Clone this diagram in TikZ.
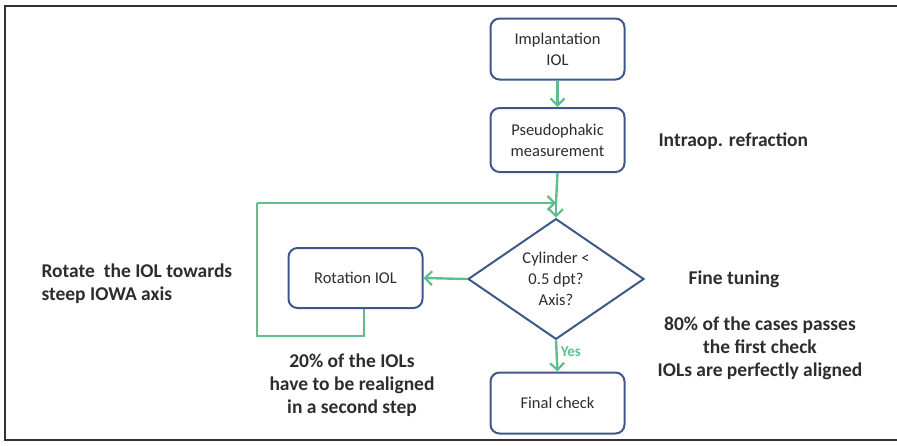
\documentclass[tikz,border=0pt]{standalone}
\usepackage{fontspec}
\setmainfont{Carlito}
\usetikzlibrary{arrows.meta,shapes.geometric}
\definecolor{boxblue}{RGB}{62,88,140}
\definecolor{arrgreen}{RGB}{95,190,140}
\definecolor{txt}{RGB}{45,45,45}
\definecolor{frame}{RGB}{50,50,50}
\tikzset{
  flowbox/.style={draw=boxblue, line width=2pt, rounded corners=9pt, minimum width=134pt, minimum height=61pt, align=center, font=\fontsize{16.5}{21}\selectfont, text=txt, fill=white},
  decision/.style={draw=boxblue, line width=2pt, diamond, minimum width=176pt, minimum height=94pt, inner sep=0pt, align=center, font=\fontsize{16.5}{21}\selectfont, text=txt},
  conn/.style={draw=arrgreen, line width=2.4pt},
  arr/.style={conn, -{Straight Barb[length=7pt,width=14pt,line width=2.2pt]}},
  note/.style={font=\bfseries\fontsize{19.5}{23}\selectfont, text=txt, align=center}
}
\begin{document}
\begin{tikzpicture}[x=1pt,y=-1pt]
\useasboundingbox (0,0) rectangle (897,445);
\draw[frame, line width=1.6pt] (897,6) -- (5,6) -- (5,440) -- (897,440);
\node[flowbox] (impl) at (557.5,49) {Implantation\\IOL};
\node[flowbox, minimum height=64pt] (pseudo) at (557.5,140) {Pseudophakic\\measurement};
\node[decision] (dec) at (556,279) {Cylinder \char`\<\\0.5 dpt?\\Axis?};
\node[flowbox, minimum height=60pt] (rot) at (355.5,278) {Rotation IOL};
\node[flowbox] (final) at (557.5,403) {Final check};
\coordinate (merge) at (556,203);
\coordinate (c1) at (364,336);
\coordinate (c2) at (257,336);
\coordinate (c3) at (257,203);
\draw[arr] (impl) -- (pseudo);
\draw[conn] (pseudo.south) -- (merge);
\draw[arr] (merge) -- (dec.north);
\draw[arr] (dec.west) -- (rot.east);
\draw[conn] (rot.south -| c1) -- (c1) -- (c2) -- (c3);
\draw[arr] (c3) -- (merge);
\draw[arr] (dec.south) -- node[right, pos=0.38, text=arrgreen, font=\bfseries\fontsize{15}{17}\selectfont, inner sep=3pt] (yes) {Yes} (final.north);
\node[note, anchor=west] (intra) at (655,141) {Intraop. refraction};
\node[note, align=left, anchor=west] (rotnote) at (38,284) {Rotate\ \ the IOL towards\\steep IOWA axis};
\node[note] (fine) at (734,279) {Fine tuning};
\node[note] (eighty) at (760,348) {80\% of the cases passes\\the first check\\IOLs are perfectly aligned};
\node[note] (twenty) at (352,385) {20\% of the IOLs\\have to be realigned\\in a second step};
\end{tikzpicture}
\end{document}
